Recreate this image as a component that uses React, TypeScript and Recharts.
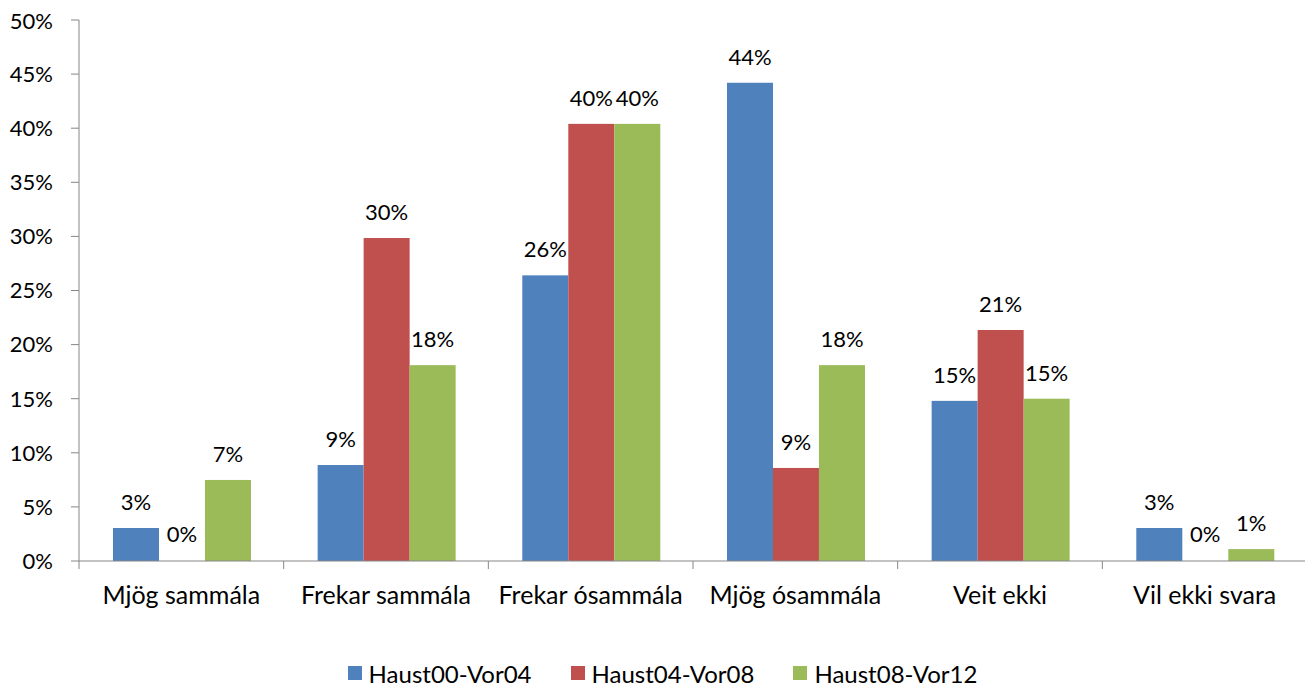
import React from "react";
import {
  BarChart,
  Bar,
  XAxis,
  YAxis,
  Legend,
  LabelList,
} from "recharts";

const categories = [
  "Mjög sammála",
  "Frekar sammála",
  "Frekar ósammála",
  "Mjög ósammála",
  "Veit ekki",
  "Vil ekki svara",
];

const haust00 = [0.0305, 0.0887, 0.264, 0.442, 0.148, 0.0305];
const haust04 = [0, 0.2985, 0.404, 0.086, 0.2135, 0];
const haust08 = [0.0749, 0.181, 0.404, 0.181, 0.15, 0.011];

const yTicks = [0, 0.05, 0.1, 0.15, 0.2, 0.25, 0.3, 0.35, 0.4, 0.45, 0.5];

const series = [
  { key: "a", name: "Haust00-Vor04", color: "#4F81BD" },
  { key: "b", name: "Haust04-Vor08", color: "#C0504D" },
  { key: "c", name: "Haust08-Vor12", color: "#9BBB59" },
];

const data = categories.map((name, i) => ({
  name,
  a: haust00[i],
  b: haust04[i],
  c: haust08[i],
}));

const AXIS = "#868686";
const pct = (v: number) => `${Math.round(v * 100)}%`;

const CatTick = (props: any) => {
  const { x, y, payload, index } = props;
  const half = payload.offset || 1228 / categories.length / 2;
  return (
    <g>
      <line x1={x - half} x2={x - half} y1={y} y2={y + 8} stroke={AXIS} />
      {index === categories.length - 1 && (
        <line x1={x + half} x2={x + half} y1={y} y2={y + 8} stroke={AXIS} />
      )}
      <text x={x} y={y + 43} textAnchor="middle" fill="#000" fontSize={25}>
        {payload.value}
      </text>
    </g>
  );
};

const LegendBox = () => (
  <div
    style={{
      display: "flex",
      justifyContent: "center",
      height: 26,
      alignItems: "center",
      fontSize: 24,
      color: "#000",
      paddingLeft: 10,
    }}
  >
    {series.map((s) => (
      <div
        key={s.key}
        style={{ display: "flex", alignItems: "center", margin: "0 19.5px" }}
      >
        <span
          style={{
            width: 14,
            height: 14,
            background: s.color,
            display: "inline-block",
            marginRight: 7,
          }}
        />
        <span>{s.name}</span>
      </div>
    ))}
  </div>
);

// zero bars stay invisible but keep their label
const barShape = (key: string, color: string) => (p: any) =>
  p.payload && p.payload[key] > 0 ? (
    <rect x={p.x} y={p.y} width={p.width} height={p.height} fill={color} />
  ) : (
    <g />
  );

export default function App() {
  return (
    <div style={{ fontFamily: "Lato, sans-serif" }}>
      <BarChart
        width={1305}
        height={678}
        data={data}
        margin={{ top: 12, right: 6, left: 0, bottom: 0 }}
        barCategoryGap="16.6%"
        barGap={0}
      >
        <XAxis
          dataKey="name"
          tick={<CatTick />}
          tickLine={false}
          tickSize={0}
          tickMargin={0}
          axisLine={{ stroke: AXIS }}
          height={99}
          interval={0}
        />
        <YAxis
          domain={[0, 0.5]}
          ticks={yTicks}
          tickFormatter={pct}
          width={71}
          tickSize={8}
          tickMargin={18}
          axisLine={{ stroke: AXIS }}
          tickLine={{ stroke: AXIS }}
          tick={{ fill: "#000", fontSize: 22 }}
          allowDataOverflow
        />
        <Legend verticalAlign="bottom" content={<LegendBox />} />
        {series.map((s) => (
          <Bar
            key={s.key}
            dataKey={s.key}
            name={s.name}
            fill={s.color}
            minPointSize={1}
            shape={barShape(s.key, s.color)}
            isAnimationActive={false}
          >
            <LabelList
              dataKey={s.key}
              position="top"
              offset={18}
              formatter={(v: any) => pct(Number(v))}
              fill="#000"
              fontSize={22}
            />
          </Bar>
        ))}
      </BarChart>
    </div>
  );
}
